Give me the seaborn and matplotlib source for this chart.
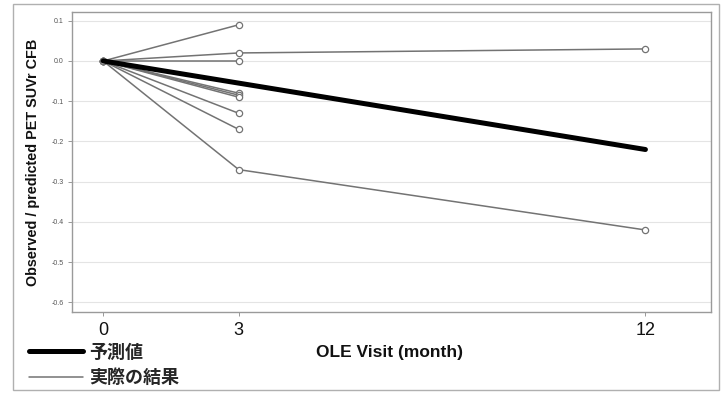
import numpy as np
import pandas as pd
import matplotlib
matplotlib.use("Agg")
import matplotlib.pyplot as plt
from matplotlib.lines import Line2D
from matplotlib.patches import Rectangle
import seaborn as sns

# Visit months
months = [0, 3, 12]

# Observed SUVr change from baseline per participant (NaN = no visit)
obs_m0 = [0.0, 0.0, 0.0, 0.0, 0.0, 0.0, 0.0, 0.0, 0.0]
obs_m3 = [0.09, 0.02, 0.0, -0.08, -0.085, -0.09, -0.13, -0.17, -0.27]
obs_m12 = [np.nan, 0.03, np.nan, np.nan, np.nan, np.nan, np.nan, np.nan, -0.42]

# Model-predicted change from baseline
pred_months = [0, 12]
pred_values = [0.0, -0.22]

y_ticks = [0.1, 0.0, -0.1, -0.2, -0.3, -0.4, -0.5, -0.6]
x_ticks = [0, 3, 12]
legend_labels = ["予測値", "実際の結果"]
x_label = "OLE Visit (month)"
y_label = "Observed / predicted PET SUVr CFB"

rows = []
for pid, vals in enumerate(zip(obs_m0, obs_m3, obs_m12)):
    for m, v in zip(months, vals):
        if not np.isnan(v):
            rows.append({"pid": pid, "month": m, "cfb": v})
obs = pd.DataFrame(rows)
pred = pd.DataFrame({"month": pred_months, "cfb": pred_values})

sns.set_theme(style="white")
plt.rcParams["font.family"] = ["Liberation Sans", "DejaVu Sans"]

fig = plt.figure(figsize=(7.22, 3.97), dpi=100)
ax = fig.add_axes([0.0997, 0.214, 0.885, 0.756])

for y in y_ticks:
    ax.axhline(y, color="#e4e4e4", lw=0.8, zorder=0)

sns.lineplot(data=obs, x="month", y="cfb", units="pid", estimator=None,
             color="#737373", lw=1.1, marker="o", markersize=4.5,
             markerfacecolor="white", markeredgecolor="#737373",
             markeredgewidth=0.9, ax=ax, zorder=3)
sns.lineplot(data=pred, x="month", y="cfb", color="black", lw=3.6,
             ax=ax, zorder=4)

ax.set_xlim(-0.69, 13.45)
ax.set_ylim(-0.624, 0.122)
ax.set_xticks(x_ticks)
ax.set_xticklabels([str(t) for t in x_ticks], fontsize=13, color="#111111")
ax.set_yticks(y_ticks)
ax.set_yticklabels([f"{t:.1f}" for t in y_ticks], fontsize=5, color="#555555")
ax.tick_params(axis="both", length=3, width=0.6, color="#888888",
               left=True, bottom=True, pad=3)
ax.tick_params(axis="x", pad=4)
ax.set_xlabel("")
ax.set_ylabel(y_label, fontsize=10.4, fontweight="bold", color="#111111",
              labelpad=8)
for s in ax.spines.values():
    s.set_color("#9a9a9a")
    s.set_linewidth(1.0)

fig.text(390 / 722, 1 - 352 / 397, x_label, ha="center", va="center",
         fontsize=12.5, fontweight="bold", color="#111111")

# Legend below the plot, left side
handles = [Line2D([], [], color="black", lw=3.6),
           Line2D([], [], color="#737373", lw=1.1)]
leg = fig.legend(handles, legend_labels, loc="upper left",
                 bbox_to_anchor=(0.018, 0.178), frameon=False,
                 handlelength=3.0, handletextpad=0.3, labelspacing=0.35,
                 prop={"family": ["Noto Sans CJK JP", "DejaVu Sans"],
                       "weight": "bold", "size": 13})

fig.patches.append(Rectangle((13 / 722, 1 - 390 / 397), 706 / 722, 386 / 397,
                             transform=fig.transFigure, fill=False,
                             edgecolor="#b0b0b0", lw=1.0))

fig.savefig("out.png", dpi=100)
